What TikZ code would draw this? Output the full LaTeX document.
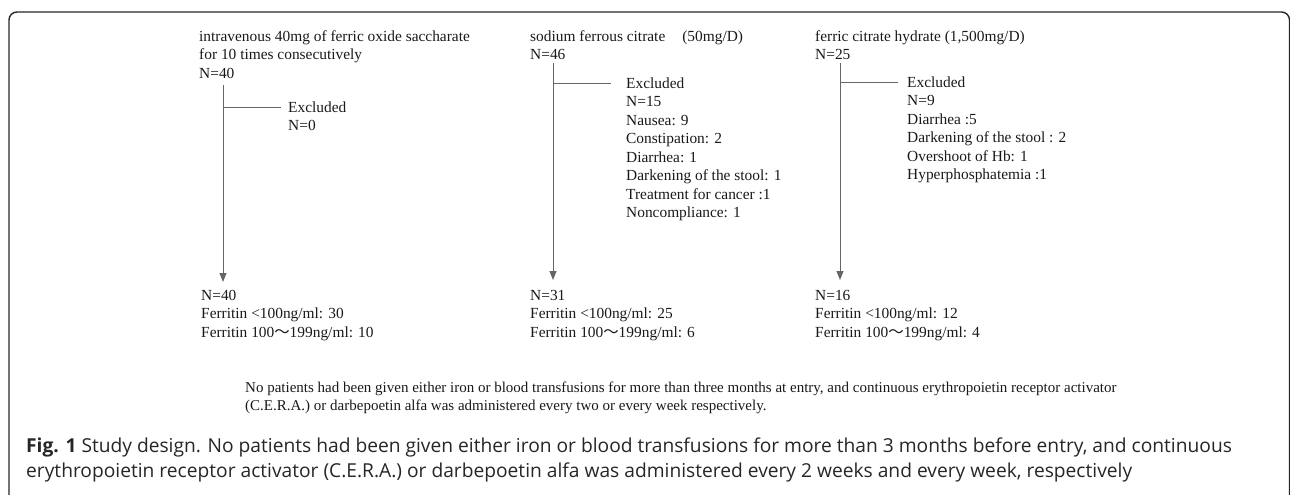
\documentclass[tikz,border=0pt]{standalone}
\usepackage{fontspec}
\setmainfont{Liberation Serif}
\newfontfamily\capfont{Open Sans}
\newfontfamily\cjkfont{Noto Sans CJK JP}
\usetikzlibrary{arrows.meta}
\newcommand{\wavetilde}{{\cjkfont ～}}
\begin{document}
\begin{tikzpicture}[x=1pt,y=-1pt,
  txt/.style={font=\fontsize{15.4}{18.5}\selectfont, inner sep=0pt, anchor=north west, align=left, text=black!90},
  conn/.style={draw=black!60, line width=1pt},
  arr/.style={conn, -{Triangle[length=9pt,width=7pt]}},
  frame/.style={draw=black!85, line width=1.4pt, rounded corners=8pt}]
\useasboundingbox (0,0) rectangle (1290,495);
\draw[frame] (9,500) -- (9,12) -- (1289.5,12) -- (1289.5,500);

% column 1
\node[txt] (t1) at (199,28) {\strut intravenous 40mg of ferric oxide saccharate\\for 10 times consecutively\\N=40};
\node[txt] (e1) at (288,99) {\strut Excluded\\N=0};
\node[txt] (b1) at (201,287) {\strut N=40\\Ferritin <100ng/ml: 30\\Ferritin 100\wavetilde199ng/ml: 10};
\coordinate (v1s) at (223,85);
\coordinate (v1e) at (223,282);
\coordinate (j1) at (223,107);
\coordinate (x1) at (281,107);
\draw[arr] (v1s) -- (v1e);
\draw[conn] (j1) -- (x1);

% column 2
\node[txt] (t2) at (530,28) {\strut sodium ferrous citrate\hspace{17pt}(50mg/D)\\N=46};
\node[txt] (e2) at (626,75) {\strut Excluded\\N=15\\Nausea: 9\\Constipation: 2\\Diarrhea: 1\\Darkening of the stool: 1\\Treatment for cancer :1\\Noncompliance: 1};
\node[txt] (b2) at (530,287) {\strut N=31\\Ferritin <100ng/ml: 25\\Ferritin 100\wavetilde199ng/ml: 6};
\coordinate (v2s) at (553,63);
\coordinate (v2e) at (553,280);
\coordinate (j2) at (553,83);
\coordinate (x2) at (611,83);
\draw[arr] (v2s) -- (v2e);
\draw[conn] (j2) -- (x2);

% column 3
\node[txt] (t3) at (815,28) {\strut ferric citrate hydrate (1,500mg/D)\\N=25};
\node[txt] (e3) at (907,74) {\strut Excluded\\N=9\\Diarrhea :5\\Darkening of the stool : 2\\Overshoot of Hb: 1\\Hyperphosphatemia :1};
\node[txt] (b3) at (815,287) {\strut N=16\\Ferritin <100ng/ml: 12\\Ferritin 100\wavetilde199ng/ml: 4};
\coordinate (v3s) at (840,63);
\coordinate (v3e) at (840,280);
\coordinate (j3) at (840,82);
\coordinate (x3) at (898,82);
\draw[arr] (v3s) -- (v3e);
\draw[conn] (j3) -- (x3);

% note
\node[txt, font=\fontsize{15}{18.5}\selectfont] (note) at (245,379) {\strut No patients had been given either iron or blood transfusions for more than three months at entry, and continuous erythropoietin receptor activator\\(C.E.R.A.) or darbepoetin alfa was administered every two or every week respectively.};

% caption
\node[txt, font=\capfont\fontsize{19.2}{25}\selectfont, text=black!85] (cap) at (26,435) {\strut\textbf{Fig. 1} Study design. No patients had been given either iron or blood transfusions for more than 3 months before entry, and continuous\\erythropoietin receptor activator (C.E.R.A.) or darbepoetin alfa was administered every 2 weeks and every week, respectively};
\end{tikzpicture}
\end{document}
